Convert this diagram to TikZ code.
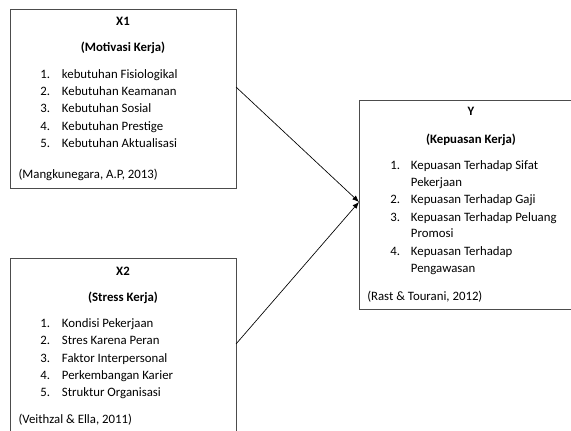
\documentclass[tikz,border=0pt]{standalone}
\usepackage{fontspec}
\setmainfont{Carlito}
\usetikzlibrary{positioning,arrows.meta}

\begin{document}
\begin{tikzpicture}[
  x=0.75pt,y=-0.75pt,
  varbox/.style={draw=black!70,line width=0.6pt,anchor=north west,inner sep=0pt},
  title/.style={anchor=base,inner sep=0pt,font=\fontsize{9.6}{12}\selectfont\bfseries},
  item/.style={anchor=base west,inner sep=0pt,font=\fontsize{9.6}{12}\selectfont},
  link/.style={-{Latex[length=5pt,width=4pt]},line width=0.5pt}
]
\clip (0,0) rectangle (571,431);

% boxes
\node[varbox,minimum width=169.5pt,minimum height=134.25pt] (x1) at (10,9) {};
\node[varbox,minimum width=169.5pt,minimum height=160pt] (x2) at (10,258) {};
\node[varbox,minimum width=168pt,minimum height=156.75pt] (y) at (359,100) {};

% X1
\node[title] (x1t) at (123,25.7) {X1};
\node[title] (x1s) at (123,51.7) {(Motivasi Kerja)};
\foreach \n/\txt [count=\i from 0] in {1/kebutuhan Fisiologikal,2/Kebutuhan Keamanan,
  3/Kebutuhan Sosial,4/Kebutuhan Prestige,5/Kebutuhan Aktualisasi}{
  \node[item] (x1n\n) at (40,78.5+17.25*\i) {\n.};
  \node[item] (x1i\n) at (61.7,78.5+17.25*\i) {\txt};
}
\node[item] (x1c) at (18.3,178.3) {(Mangkunegara, A.P, 2013)};

% X2
\node[title] (x2t) at (123,275) {X2};
\node[title] (x2s) at (123,301.7) {(Stress Kerja)};
\foreach \n/\txt [count=\i from 0] in {1/Kondisi Pekerjaan,2/Stres Karena Peran,
  3/Faktor Interpersonal,4/Perkembangan Karier,5/Struktur Organisasi}{
  \node[item] (x2n\n) at (40,327.5+17.3*\i) {\n.};
  \node[item] (x2i\n) at (61.7,327.5+17.3*\i) {\txt};
}
\node[item] (x2c) at (18.3,423.3) {(Veithzal \& Ella, 2011)};

% Y
\node[title] (yt) at (471,116) {Y};
\node[title] (ys) at (471,143.3) {(Kepuasan Kerja)};
\node[item] (yn1) at (390,170) {1.};
\node[item] (yn2) at (390,204) {2.};
\node[item] (yn3) at (390,221) {3.};
\node[item] (yn4) at (390,255) {4.};
\foreach \txt [count=\i from 0] in {Kepuasan Terhadap Sifat,Pekerjaan,Kepuasan Terhadap Gaji,
  Kepuasan Terhadap Peluang,Promosi,Kepuasan Terhadap,Pengawasan}{
  \node[item] (yi\i) at (410.7,170+17*\i) {\txt};
}
\node[item] (yc) at (367,300) {(Rast \& Tourani, 2012)};

% arrows
\coordinate (x1out) at (236,87);
\coordinate (x2out) at (236,344);
\coordinate (yin) at (359,202);
\draw[link] (x1out) -- (yin);
\draw[link] (x2out) -- (yin);
\end{tikzpicture}
\end{document}
